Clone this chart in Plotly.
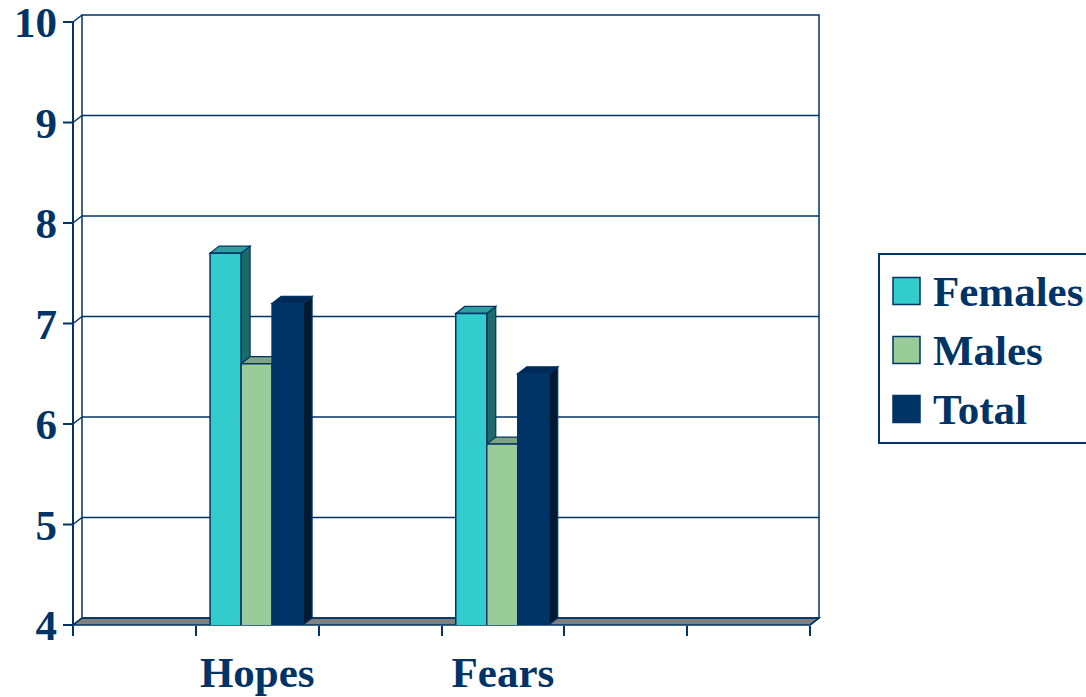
import plotly.graph_objects as go

# ---- data ----
categories = ["Hopes", "Fears"]
cat_pos = [1, 3]          # category slots (6 slots on the axis, two used)
series_names = ["Females", "Males", "Total"]
females = [7.7, 7.1]
males = [6.6, 5.8]
total = [7.2, 6.5]
y_ticks = [4, 5, 6, 7, 8, 9, 10]

series_values = [females, males, total]
front_colors = ["#33CCCC", "#99CC99", "#003366"]
top_colors = ["#2E9E9E", "#7FA67F", "#002A55"]
side_colors = ["#1D6A6A", "#5E7F5E", "#001A33"]
NAVY = "#003366"
FONT = "Liberation Serif"

# ---- geometry (pseudo-3D) ----
W, H = 1086, 697
ml, mr, mt, mb = 73, 267, 15, 72
pw, ph = W - ml - mr, H - mt - mb
n_slots = 6
px_x = 737 / n_slots            # px per x unit (front face)
dx_px, dy_px = 9, 7
dxu = dx_px / px_x
x_lo, x_hi = -0.5, -0.5 + pw / px_x
y_lo = 4
px_y = 603 / 6
dyu = dy_px / px_y
y_hi = y_lo + ph / px_y
bw = 31 / px_x
off0 = -0.384


def fx(v):
    return (v - x_lo) / (x_hi - x_lo)


def fy(v):
    return (v - y_lo) / (y_hi - y_lo)


fig = go.Figure()

for i, (name, vals) in enumerate(zip(series_names, series_values)):
    fig.add_trace(go.Bar(
        x=cat_pos, y=vals, name=name, width=bw, offset=off0 + i * bw,
        marker=dict(color=front_colors[i], line=dict(color=NAVY, width=1.5)),
        showlegend=False,
    ))
    fig.add_trace(go.Scatter(
        x=[None], y=[None], mode="markers", name=name,
        marker=dict(symbol="square", size=16, color="rgba(0,0,0,0)",
                    line=dict(width=0)),
    ))

shapes = []
frame_line = dict(color=NAVY, width=1.5)
dom = dict(xref="x domain", yref="y domain", layer="below")
x_front_l, x_front_r = -0.5, -0.5 + n_slots
# floor
shapes.append(dict(type="path", **dom,
                   path=f"M {fx(x_front_l)},{fy(4)} L {fx(x_front_r)},{fy(4)} "
                        f"L {fx(x_front_r + dxu)},{fy(4 + dyu)} L {fx(x_front_l + dxu)},{fy(4 + dyu)} Z",
                   fillcolor="#808080", line=frame_line))
# back wall
shapes.append(dict(type="rect", **dom,
                   x0=fx(x_front_l + dxu), x1=fx(x_front_r + dxu),
                   y0=fy(4 + dyu), y1=fy(10 + dyu),
                   fillcolor="rgba(0,0,0,0)", line=frame_line))
# gridlines + side wall diagonals + y tick marks
for t in y_ticks:
    if 4 < t < 10:
        shapes.append(dict(type="line", **dom, x0=fx(x_front_l + dxu), x1=fx(x_front_r + dxu),
                           y0=fy(t + dyu), y1=fy(t + dyu), line=frame_line))
    shapes.append(dict(type="line", **dom, x0=fx(x_front_l), x1=fx(x_front_l + dxu),
                       y0=fy(t), y1=fy(t + dyu), line=frame_line))
    shapes.append(dict(type="line", xref="paper", yref="y domain", layer="below",
                       x0=-10 / pw, x1=0, y0=fy(t), y1=fy(t),
                       line=dict(color=NAVY, width=2)))
# left wall front edge
shapes.append(dict(type="line", **dom, x0=fx(x_front_l), x1=fx(x_front_l),
                   y0=fy(4), y1=fy(10), line=dict(color=NAVY, width=2)))
# right floor edge
shapes.append(dict(type="line", **dom, x0=fx(x_front_r), x1=fx(x_front_r + dxu),
                   y0=fy(4), y1=fy(4 + dyu), line=frame_line))

# bar tops & sides
for ci, c in enumerate(cat_pos):
    for i, vals in enumerate(series_values):
        v = vals[ci]
        x0 = c + off0 + i * bw
        x1 = x0 + bw
        shapes.append(dict(type="path", xref="x", yref="y", layer="below",
                           path=f"M {x1},{4} L {x1},{v} L {x1 + dxu},{v + dyu} L {x1 + dxu},{4 + dyu} Z",
                           fillcolor=side_colors[i], line=dict(color=NAVY, width=1.2)))
        shapes.append(dict(type="path", xref="x", yref="y", layer="below",
                           path=f"M {x0},{v} L {x1},{v} L {x1 + dxu},{v + dyu} L {x0 + dxu},{v + dyu} Z",
                           fillcolor=top_colors[i], line=dict(color=NAVY, width=1.2)))

# legend swatches (larger than Plotly's capped legend markers)
legend_left = 878
legend_top = 253
sw = 27
row_centers = [291, 350, 409]
for i, cy in enumerate(row_centers):
    shapes.append(dict(type="rect", xref="paper", yref="paper", layer="above",
                       x0=(legend_left + 15 - ml) / pw, x1=(legend_left + 15 + sw - ml) / pw,
                       y0=(H - mb - (cy + sw / 2)) / ph, y1=(H - mb - (cy - sw / 2)) / ph,
                       fillcolor=front_colors[i], line=dict(color=NAVY, width=1.5)))

tickfont = dict(family=FONT, size=43, color=NAVY, weight="bold")

fig.update_layout(
    width=W, height=H,
    margin=dict(l=ml, r=mr, t=mt, b=mb, autoexpand=False),
    paper_bgcolor="white", plot_bgcolor="rgba(0,0,0,0)",
    barmode="group",
    shapes=shapes,
    xaxis=dict(range=[x_lo, x_hi], tickvals=cat_pos, ticktext=categories,
               ticks="", showgrid=False, zeroline=False, showline=False,
               tickfont=tickfont, ticklabelstandoff=18,
               minor=dict(tickvals=[k - 0.5 for k in range(n_slots + 1)], ticks="outside",
                          ticklen=10, tickwidth=2, tickcolor=NAVY, showgrid=False)),
    yaxis=dict(range=[y_lo, y_hi], tickvals=y_ticks, ticks="", showgrid=False,
               zeroline=False, showline=False, tickfont=tickfont,
               ticklabelstandoff=15, ticklabeloverflow="allow"),
    legend=dict(x=(legend_left - ml) / pw, y=(H - mb - legend_top) / ph, xanchor="left", yanchor="top",
                bordercolor=NAVY, borderwidth=2, bgcolor="rgba(0,0,0,0)",
                font=dict(family=FONT, size=43, color=NAVY, weight="bold"),
                itemwidth=43, tracegroupgap=0),
    showlegend=True,
)

fig.write_html("out.html")
